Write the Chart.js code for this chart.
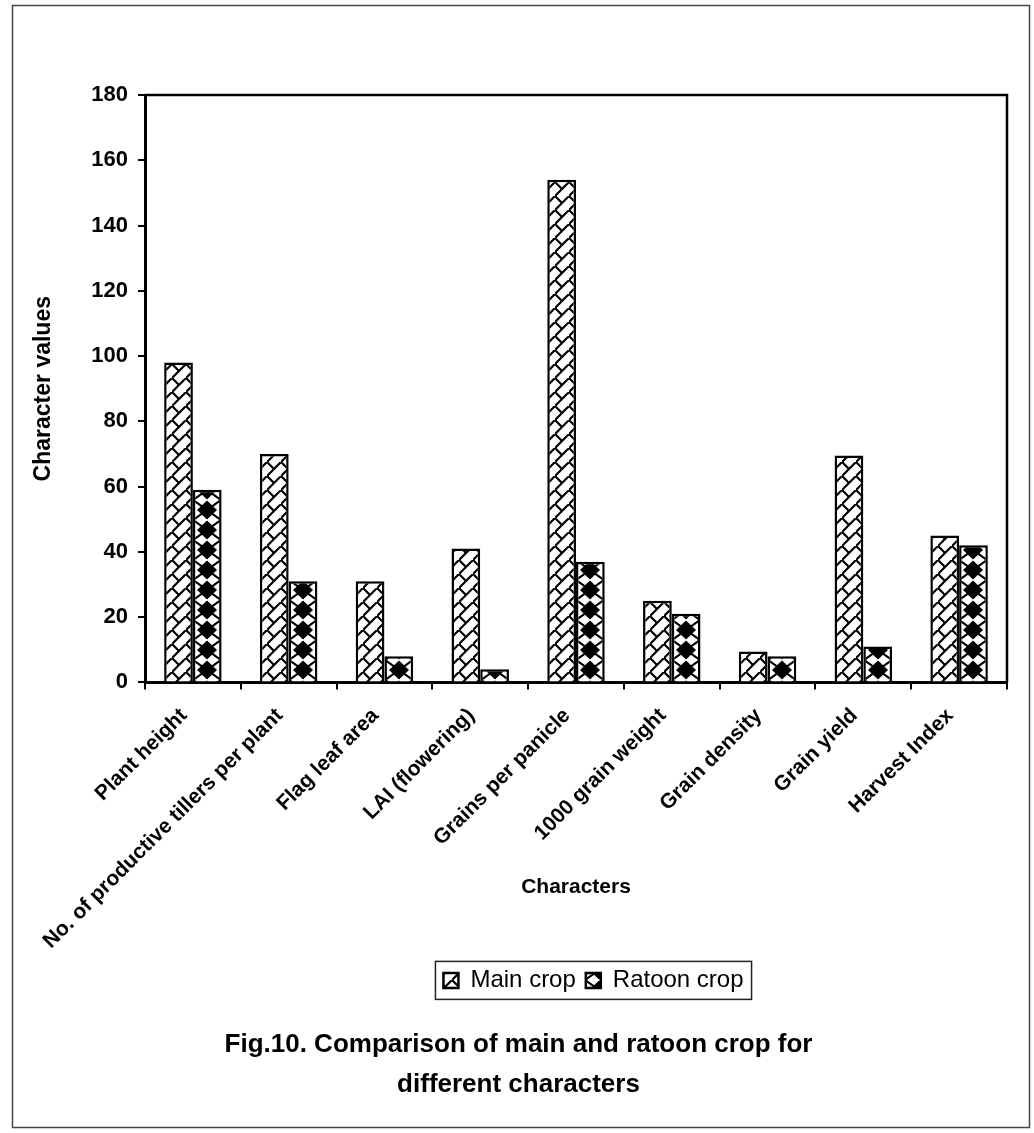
<!DOCTYPE html>
<html>
<head>
<meta charset="utf-8">
<script src="https://cdn.jsdelivr.net/npm/chart.js@4.4.1/dist/chart.umd.min.js"></script>
<style>
  html, body { margin: 0; padding: 0; background: #fff; }
</style>
</head>
<body>
<canvas id="chart" width="1034" height="1133"></canvas>
<script>
'use strict';

/* ── DATA ── */
const CATEGORIES = [
  'Plant height',
  'No. of productive tillers per plant',
  'Flag leaf area',
  'LAI (flowering)',
  'Grains per panicle',
  '1000 grain weight',
  'Grain density',
  'Grain yield',
  'Harvest Index'
];
const MAIN_CROP   = [98, 70, 31, 41, 154, 25, 9.5, 69.5, 45];
const RATOON_CROP = [59, 31, 8, 4, 37, 21, 8, 11, 42];
const Y_MIN = 0, Y_MAX = 180, Y_STEP = 20;

const FONT = "'Liberation Sans', Arial, sans-serif";
const CAT_PCT = 0.6;

/* ── FILL PATTERNS ── */
function hatchTile() {
  const c = document.createElement('canvas');
  c.width = 14; c.height = 14;
  const g = c.getContext('2d');
  g.fillStyle = '#fff';
  g.fillRect(0, 0, 14, 14);
  g.strokeStyle = '#000';
  g.lineWidth = 2.2;
  g.beginPath();
  g.moveTo(-1, 15); g.lineTo(15, -1);
  g.moveTo(0, 0); g.lineTo(7, 7);
  g.stroke();
  return c;
}

function diamondTile() {
  const c = document.createElement('canvas');
  c.width = 28; c.height = 20;
  const g = c.getContext('2d');
  g.fillStyle = '#fff';
  g.fillRect(0, 0, 28, 20);
  g.strokeStyle = '#000';
  g.lineWidth = 2.2;
  g.beginPath();
  g.moveTo(0, 0); g.lineTo(28, 20);
  g.moveTo(28, 0); g.lineTo(0, 20);
  g.stroke();
  g.fillStyle = '#000';
  g.beginPath();
  g.moveTo(14, 0.5); g.lineTo(24, 10); g.lineTo(14, 19.5); g.lineTo(4, 10);
  g.closePath();
  g.fill();
  return c;
}

const HATCH = hatchTile();
const DIAMOND = diamondTile();
const probe = document.createElement('canvas').getContext('2d');

// pattern aligned so each bar shows the same centred motif
function barFill(tile, side) {
  return c => {
    const p = probe.createPattern(tile, 'repeat');
    const x = c.chart.scales && c.chart.scales.x;
    if (c.dataIndex === undefined || !x || !x.width) return p;
    const cw = x.width / CATEGORIES.length;
    const center = x.getPixelForValue(c.dataIndex) + side * cw * CAT_PCT / 4;
    p.setTransform(new DOMMatrix().translate(Math.round(center - tile.width / 2), 0));
    return p;
  };
}

/* ── DECORATION PLUGIN: outer frame, plot box, legend frame ── */
const LEGEND_SHIFT = 75;
const TITLE_SHIFT = 0;

const framePlugin = {
  id: 'frame',
  afterLayout(chart) {
    if (chart.legend) { chart.legend.left += LEGEND_SHIFT; chart.legend.right += LEGEND_SHIFT; }
    if (chart.titleBlock) { chart.titleBlock.left += TITLE_SHIFT; chart.titleBlock.right += TITLE_SHIFT; }
  },
  beforeDraw(chart) {
    const g = chart.ctx;
    g.save();
    g.fillStyle = '#fff';
    g.fillRect(0, 0, chart.width, chart.height);
    g.strokeStyle = '#444';
    g.lineWidth = 1.5;
    g.strokeRect(12.5, 5.5, 1017, 1122);
    g.restore();
  },
  afterDraw(chart) {
    const g = chart.ctx;
    const a = chart.chartArea;
    g.save();
    g.strokeStyle = '#000';
    g.lineWidth = 2.5;
    g.beginPath();
    g.moveTo(a.left, a.top);
    g.lineTo(a.right, a.top);
    g.lineTo(a.right, a.bottom);
    g.stroke();

    const boxes = chart.legend && chart.legend.legendHitBoxes;
    if (boxes && boxes.length) {
      const l = Math.min(...boxes.map(b => b.left));
      const r = Math.max(...boxes.map(b => b.left + b.width));
      const t = Math.min(...boxes.map(b => b.top));
      const h = Math.max(...boxes.map(b => b.height));
      g.lineWidth = 1.5;
      g.strokeStyle = '#222';
      g.strokeRect(l - 8, t - 7, r - l + 16, h + 14);
    }
    g.restore();
  }
};

/* ── CHART ── */
const ctx = document.getElementById('chart');

new Chart(ctx, {
  type: 'bar',
  data: {
    labels: CATEGORIES,
    datasets: [
      {
        label: 'Main crop',
        data: MAIN_CROP,
        backgroundColor: barFill(HATCH, -1),
        borderColor: '#000',
        borderWidth: 2.5,
        barPercentage: 1.0,
        categoryPercentage: CAT_PCT
      },
      {
        label: 'Ratoon crop',
        data: RATOON_CROP,
        backgroundColor: barFill(DIAMOND, 1),
        borderColor: '#000',
        borderWidth: 2.5,
        barPercentage: 1.0,
        categoryPercentage: CAT_PCT
      }
    ]
  },
  options: {
    responsive: false,
    animation: false,
    events: [],
    layout: { padding: { left: 30, right: 27, top: 95, bottom: 0 } },
    plugins: {
      legend: {
        position: 'bottom',
        labels: {
          boxWidth: 15,
          boxHeight: 15,
          padding: 10,
          color: '#000',
          font: { family: FONT, size: 24 }
        }
      },
      title: {
        display: true,
        position: 'bottom',
        text: ['Fig.10. Comparison of main and ratoon crop for', 'different characters'],
        color: '#000',
        font: { family: FONT, size: 26, weight: 'bold', lineHeight: 1.55 },
        padding: { top: 22, bottom: 28 }
      },
      tooltip: { enabled: false }
    },
    scales: {
      x: {
        grid: { display: true, drawOnChartArea: false, offset: true, tickLength: 7, color: '#000', lineWidth: 2 },
        border: { display: true, color: '#000', width: 3 },
        ticks: { autoSkip: false, maxRotation: 45, minRotation: 45, color: '#000', padding: 14, labelOffset: -9, font: { family: FONT, size: 21, weight: 'bold' } },
        title: { display: true, text: 'Characters', color: '#000', font: { family: FONT, size: 21, weight: 'bold' }, padding: { top: 4, bottom: 59 } },
        afterFit: scale => { scale.height = 276; }
      },
      y: {
        min: Y_MIN,
        max: Y_MAX,
        grid: { display: true, drawOnChartArea: false, tickLength: 7, color: '#000', lineWidth: 2 },
        border: { display: true, color: '#000', width: 3 },
        ticks: { stepSize: Y_STEP, color: '#000', padding: 10, font: { family: FONT, size: 22, weight: 'bold' } },
        title: { display: true, text: 'Character values', color: '#000', font: { family: FONT, size: 23, weight: 'bold' }, padding: { top: 0, bottom: 35 } },
        afterFit: scale => { scale.width = 115; }
      }
    }
  },
  plugins: [framePlugin]
});
</script>
</body>
</html>
